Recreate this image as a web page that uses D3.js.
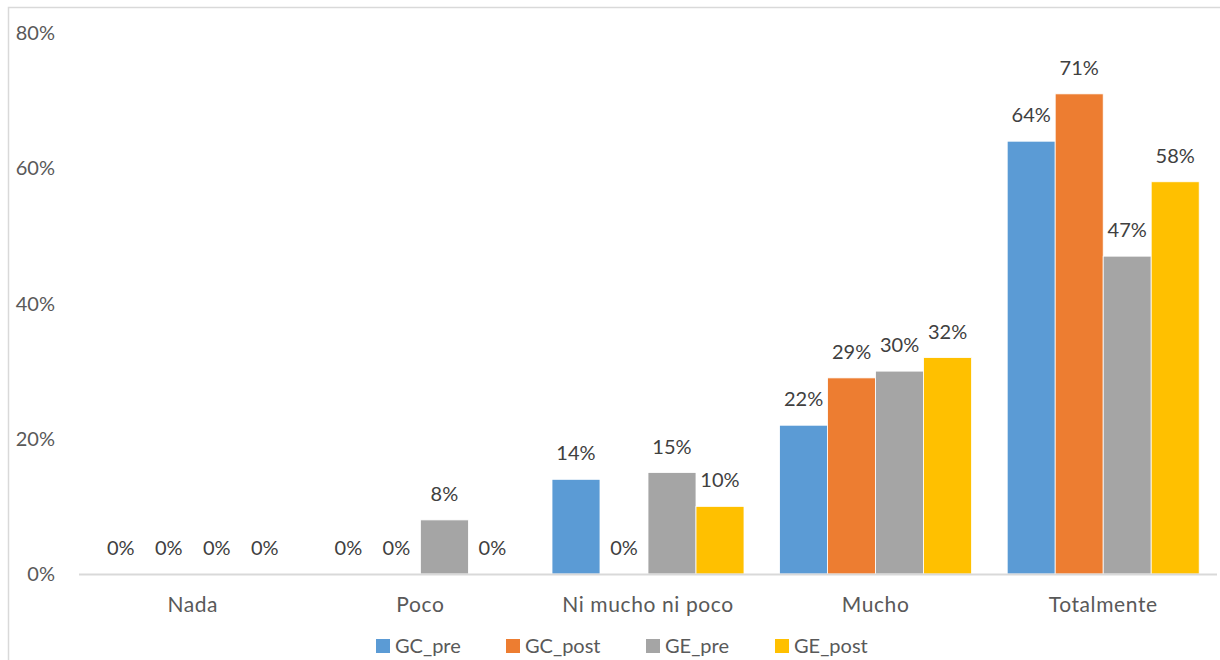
<!DOCTYPE html>
<html>
<head>
<meta charset="utf-8">
<script src="https://cdn.jsdelivr.net/npm/d3@7"></script>
<style>
  body { margin: 0; background: #fff; }
  svg { display: block; font-family: Lato, "Open Sans", sans-serif; }
</style>
</head>
<body>
<svg id="chart" width="1220" height="660"></svg>
<script>
// Grouped bars, one group per answer category
const categories = ["Nada", "Poco", "Ni mucho ni poco", "Mucho", "Totalmente"];
const seriesNames = ["GC_pre", "GC_post", "GE_pre", "GE_post"];
const gcPre = [0, 0, 14, 22, 64];
const gcPost = [0, 0, 0, 29, 71];
const gePre = [0, 8, 15, 30, 47];
const gePost = [0, 0, 10, 32, 58];
const yTicks = [0, 20, 40, 60, 80];
const colors = ["#5B9BD5", "#ED7D31", "#A5A5A5", "#FFC000"];

const seriesValues = [gcPre, gcPost, gePre, gePost];

const svg = d3.select("#chart");
const plotLeft = 79, plotRight = 1217, plotTop = 33, plotBottom = 574;

// chart frame, right/bottom edges fall outside the picture
svg.append("rect")
  .attr("x", 8.5).attr("y", 7.5)
  .attr("width", 1240).attr("height", 680)
  .attr("fill", "none").attr("stroke", "#d9d9d9").attr("stroke-width", 1.5);

const x = d3.scaleBand().domain(categories).range([plotLeft, plotRight]);
const barW = 48;
const xs = d3.scaleBand().domain(seriesNames)
  .range([x.bandwidth() / 2 - 2 * barW, x.bandwidth() / 2 + 2 * barW]);
const y = d3.scaleLinear().domain([0, 80]).range([plotBottom, plotTop]);

// y tick labels only, no gridlines
svg.append("g")
  .selectAll("text")
  .data(yTicks)
  .join("text")
  .attr("x", 55)
  .attr("y", d => y(d))
  .attr("dy", "0.35em")
  .attr("text-anchor", "end")
  .attr("fill", "#595959")
  .style("font-size", "20px")
  .text(d => d + "%");

const groups = svg.append("g")
  .selectAll("g")
  .data(categories)
  .join("g")
  .attr("transform", d => `translate(${x(d)},0)`);

const cells = groups.selectAll("g")
  .data((c, i) => seriesNames.map((s, j) => ({ s, j, v: seriesValues[j][i] })))
  .join("g");

cells.append("rect")
  .attr("x", d => xs(d.s))
  .attr("width", xs.bandwidth())
  .attr("y", d => y(d.v))
  .attr("height", d => plotBottom - y(d.v))
  .attr("fill", d => colors[d.j])
  .attr("stroke", d => d.v > 0 ? "#fff" : "none")
  .attr("stroke-width", 0.8);

cells.append("text")
  .attr("x", d => xs(d.s) + xs.bandwidth() / 2)
  .attr("y", d => y(d.v) - 19)
  .attr("text-anchor", "middle")
  .attr("fill", "#404040")
  .style("font-size", "20px")
  .text(d => d.v + "%");

// baseline
svg.append("line")
  .attr("x1", plotLeft).attr("x2", plotRight)
  .attr("y1", plotBottom + 0.5).attr("y2", plotBottom + 0.5)
  .attr("stroke", "#d9d9d9").attr("stroke-width", 2);

svg.append("g")
  .selectAll("text")
  .data(categories)
  .join("text")
  .attr("x", d => x(d) + x.bandwidth() / 2)
  .attr("y", 612)
  .attr("text-anchor", "middle")
  .attr("fill", "#595959")
  .style("font-size", "21px")
  .style("letter-spacing", "0.6px")
  .text(d => d);

// legend
const legendX = [376, 506, 646, 775];
const legend = svg.append("g")
  .selectAll("g")
  .data(seriesNames)
  .join("g")
  .attr("transform", (d, i) => `translate(${legendX[i]},639)`);
legend.append("rect")
  .attr("width", 14).attr("height", 14)
  .attr("fill", (d, i) => colors[i]);
legend.append("text")
  .attr("x", 19).attr("y", 14)
  .attr("fill", "#595959")
  .style("font-size", "20px")
  .text(d => d);
</script>
</body>
</html>
